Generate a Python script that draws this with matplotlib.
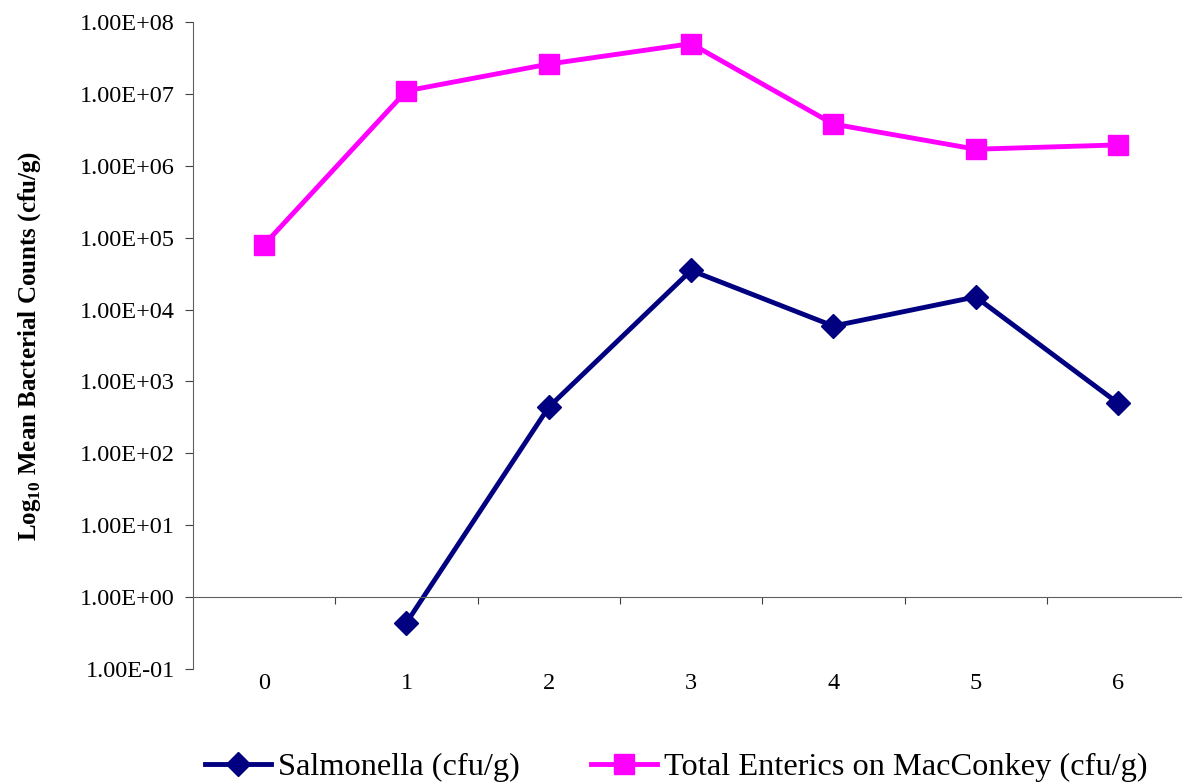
import numpy as np
import matplotlib.pyplot as plt

# DATA
days = ['0', '1', '2', '3', '4', '5', '6']
salmonella = [np.nan, 0.44, 440, 35000, 5900, 15000, 500]
enterics = [80000, 11000000, 26000000, 50000000, 3800000, 1700000, 1950000]
ytick_vals = [1e-1, 1e0, 1e1, 1e2, 1e3, 1e4, 1e5, 1e6, 1e7, 1e8]

plt.rcParams['font.family'] = ['Liberation Serif', 'DejaVu Serif']
plt.rcParams['mathtext.fontset'] = 'custom'
plt.rcParams['mathtext.rm'] = 'Liberation Serif'
plt.rcParams['mathtext.bf'] = 'Liberation Serif:bold'

fig = plt.figure(figsize=(11.82, 7.84), dpi=100)
ax = fig.add_axes([193/1182, 1-669/784, 1-193/1182, (669-22)/784])

x = np.arange(len(days))
ax.plot(x, salmonella, color='#000080', lw=3.5, marker='D', ms=12,
        label='Salmonella (cfu/g)')
ax.plot(x, enterics, color='#FF00FF', lw=3.5, marker='s', ms=15,
        label='Total Enterics on MacConkey (cfu/g)')

ax.set_yscale('log')
ax.set_ylim(1e-1, 1e8)
ax.set_xlim(-0.5, 6.45)
ax.set_yticks(ytick_vals)
ax.set_yticklabels(['%.2E' % v for v in ytick_vals])
ax.minorticks_off()
ax.tick_params(axis='y', direction='out', length=6, labelsize=17.5, color='#404040', pad=7)

for s in ['top', 'right']:
    ax.spines[s].set_visible(False)
ax.spines['left'].set_color('#606060')
ax.spines['bottom'].set_position(('data', 1))
ax.spines['bottom'].set_color('#606060')

# boundary ticks on the crossing axis
ax.set_xticks(x[:-1] + 0.5)
ax.set_xticklabels([])
ax.tick_params(axis='x', direction='out', length=5, color='#404040')

# category labels at the bottom
sec = ax.secondary_xaxis(0)
sec.set_xticks(x)
sec.set_xticklabels(days)
sec.spines['bottom'].set_visible(False)
sec.tick_params(length=0, labelsize=17.5, pad=3)

ax.set_ylabel(r'Log$_{\mathbf{10}}$ Mean Bacterial Counts (cfu/g)', fontsize=18,
              fontweight='bold')
ax.yaxis.set_label_coords(-0.152, 0.5)

fig.legend(loc='center', bbox_to_anchor=(676/1182, 1-767/784), ncol=2, frameon=False,
           fontsize=23.3, handlelength=2.05, columnspacing=2.2, handletextpad=0.2)

fig.savefig('out.png', dpi=100)
